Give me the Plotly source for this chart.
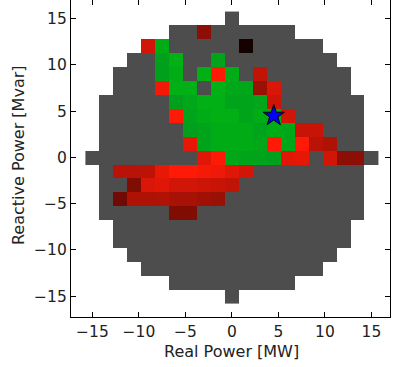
import plotly.graph_objects as go

# grid centres (MW / Mvar)
P_centers = [-15 + 1.5 * k for k in range(21)]
Q_centers = [-15 + 1.5 * k for k in range(21)]

# half-width (in cells) of the capability region for each row, bottom (Q=-15) to top (Q=15)
row_half_cols = [0, 4, 6, 7, 8, 8, 9, 9, 9, 9, 10, 9, 9, 9, 9, 8, 8, 7, 6, 4, 0]

# red cells: column index, row index (0 = centre), intensity
red_i = [-2, -6, 1, -1, 2, -5, 2, 3, 3, -4, 4, 5, 6,
         -3, 3, 5, 6, 7,
         -2, -1, 4, 5, 7, 8, 9,
         -8, -7, -6, -5, -4, -3, -2, -1, 0, 1,
         -7, -6, -5, -4, -3, -2, -1, 0,
         -8, -7, -6, -5, -4, -3, -2, -1,
         -4, -3]
red_j = [9, 8, 8, 6, 6, 5, 5, 5, 4, 3, 3, 2, 2,
         1, 1, 1, 1, 1,
         0, 0, 0, 0, 0, 0, 0,
         -1, -1, -1, -1, -1, -1, -1, -1, -1, -1,
         -2, -2, -2, -2, -2, -2, -2, -2,
         -3, -3, -3, -3, -3, -3, -3, -3,
         -4, -4]
red_level = [0.55, 0.82, 0.08, 1.0, 0.75, 0.95, 0.6, 0.85, 0.8, 1.0, 0.82, 0.78, 0.78,
             0.9, 1.0, 1.0, 0.72, 0.68,
             0.88, 1.0, 0.88, 0.9, 0.82, 0.55, 0.55,
             0.72, 0.72, 0.74, 0.91, 1.0, 1.0, 0.96, 0.94, 0.88, 0.82,
             0.5, 0.85, 0.88, 0.82, 0.82, 0.8, 0.78, 0.75,
             0.44, 0.68, 0.68, 0.69, 0.66, 0.66, 0.63, 0.6,
             0.5, 0.5]

# green cells: column index, row index, shade
green_i = [-5,
           -5, -4, -1,
           -5, -4, -2, 0,
           -4, -3, -1, 0, 1,
           -4, -3, -2, -1, 0, 1, 2,
           -3, -2, -1, 0, 1, 2, 3,
           -3, -2, -1, 0, 1, 2, 3, 4,
           -2, -1, 0, 1, 2, 4,
           0, 1, 2, 3]
green_j = [8,
           7, 7, 7,
           6, 6, 6, 6,
           5, 5, 5, 5, 5,
           4, 4, 4, 4, 4, 4, 4,
           3, 3, 3, 3, 3, 3, 3,
           2, 2, 2, 2, 2, 2, 2, 2,
           1, 1, 1, 1, 1, 1,
           0, 0, 0, 0]
green_level = [0.8,
               0.5, 0.9, 0.6,
               0.5, 0.8, 0.9, 0.8,
               0.9, 0.9, 0.9, 0.7, 0.7,
               0.5, 0.7, 0.9, 0.9, 0.6, 0.6, 0.7,
               0.6, 0.8, 0.9, 0.9, 0.6, 0.8, 0.8,
               0.5, 0.6, 0.8, 0.8, 0.8, 0.6, 0.8, 0.7,
               0.6, 0.8, 0.8, 0.8, 0.7, 0.7,
               0.7, 0.6, 0.6, 0.5]

# operating point
star_P = [4.5]
star_Q = [4.5]

n = len(P_centers)
c = n // 2
gray_z = [[None] * n for _ in range(n)]
for r, hw in enumerate(row_half_cols):
    for i in range(-hw, hw + 1):
        gray_z[r][c + i] = 1

red_z = [[None] * n for _ in range(n)]
for i, j, v in zip(red_i, red_j, red_level):
    red_z[c + j][c + i] = v

green_z = [[None] * n for _ in range(n)]
for i, j, v in zip(green_i, green_j, green_level):
    green_z[c + j][c + i] = v

fig = go.Figure()
fig.add_trace(go.Heatmap(x=P_centers, y=Q_centers, z=gray_z,
                         colorscale=[[0, "#4d4d4d"], [1, "#4d4d4d"]],
                         showscale=False, hoverinfo="skip"))
fig.add_trace(go.Heatmap(x=P_centers, y=Q_centers, z=red_z, zmin=0, zmax=1,
                         colorscale=[[0, "rgb(0,0,0)"], [1, "rgb(255,26,8)"]],
                         showscale=False))
fig.add_trace(go.Heatmap(x=P_centers, y=Q_centers, z=green_z, zmin=0, zmax=1,
                         colorscale=[[0, "rgb(0,140,40)"], [1, "rgb(0,180,18)"]],
                         showscale=False))
fig.add_trace(go.Scatter(x=star_P, y=star_Q, mode="markers",
                         marker=dict(symbol="star", size=16, color="#0000ff",
                                     line=dict(color="black", width=1)),
                         showlegend=False))

axis_common = dict(
    showgrid=False, zeroline=False, showline=True, linecolor="black", linewidth=1.2,
    mirror="ticks", ticks="inside", ticklen=5, tickwidth=1, tickcolor="black",
    tickvals=[-15, -10, -5, 0, 5, 10, 15], automargin=False,
    tickfont=dict(family="DejaVu Sans", size=15.5, color="#222"),
)
fig.update_xaxes(range=[-17.3, 17.0], **axis_common)
fig.update_yaxes(range=[-17.25, 17.0], **axis_common)

title_font = dict(family="DejaVu Sans", size=16, color="#222")
fig.add_annotation(text="Real Power [MW]", xref="paper", yref="paper",
                   x=0.5016, y=-0.109, xanchor="center", yanchor="middle",
                   showarrow=False, font=title_font)
fig.add_annotation(text="Reactive Power [Mvar]", xref="paper", yref="paper",
                   x=-0.166, y=0.511, xanchor="center", yanchor="middle",
                   textangle=-90, showarrow=False, font=title_font)

fig.update_layout(width=393, height=367, margin=dict(l=71, r=3, t=0, b=50),
                  paper_bgcolor="white", plot_bgcolor="white", showlegend=False)
fig.write_html("out.html", config={"displayModeBar": False},
               post_script="document.body.style.margin='0';document.body.style.padding='0';")
